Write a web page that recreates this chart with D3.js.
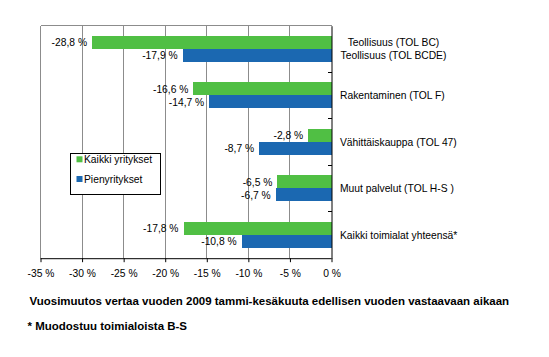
<!DOCTYPE html>
<html>
<head>
<meta charset="utf-8">
<script src="https://cdn.jsdelivr.net/npm/d3@7"></script>
<style>
  html, body { margin: 0; padding: 0; background: #fff; }
  svg { display: block; }
  text { font-family: "Liberation Sans", Arial, sans-serif; }
</style>
</head>
<body>
<svg id="chart" width="549" height="357"></svg>
<script>
// ---- data ----
const categories = [
  "Teollisuus (TOL BC)\nTeollisuus (TOL BCDE)",
  "Rakentaminen (TOL F)",
  "Vähittäiskauppa (TOL 47)",
  "Muut palvelut (TOL H-S )",
  "Kaikki toimialat yhteensä*"
];
const seriesNames = ["Kaikki yritykset", "Pienyritykset"];
const kaikkiYritykset = [-28.8, -16.6, -2.8, -6.5, -17.8];
const pienyritykset   = [-17.9, -14.7, -8.7, -6.7, -10.8];
const xTicks = [-35, -30, -25, -20, -15, -10, -5, 0];
const titleText = "Vuosimuutos vertaa vuoden 2009 tammi-kesäkuuta edellisen vuoden vastaavaan aikaan";
const footText = "* Muodostuu toimialoista B-S";
const colors = ["#50BF44", "#1B68B1"];

// ---- layout ----
const svg = d3.select("#chart");
const pLeft = 40.5, pRight = 331.5, pTop = 25.7, pBottom = 258.2;
const x = d3.scaleLinear().domain([-35, 0]).range([pLeft, pRight]);
const y = d3.scaleBand().domain(categories).range([pTop, pBottom]).padding(0);
const bw = y.bandwidth();
const barH = bw * 0.28;
const fmt = v => d3.format(".1f")(v).replace(".", ",").replace("−", "-") + " %";

// gridlines
svg.append("g").selectAll("line").data(xTicks.filter(t => t !== 0)).join("line")
  .attr("x1", d => x(d)).attr("x2", d => x(d))
  .attr("y1", pTop).attr("y2", pBottom)
  .attr("stroke", "#8c8c8c").attr("stroke-width", 1)
  .attr("shape-rendering", "crispEdges");
// top border
svg.append("line").attr("x1", pLeft).attr("x2", pRight).attr("y1", pTop).attr("y2", pTop)
  .attr("stroke", "#8c8c8c").attr("shape-rendering", "crispEdges");

// bars
const series = [kaikkiYritykset, pienyritykset];
series.forEach((vals, si) => {
  svg.append("g").selectAll("rect").data(vals).join("rect")
    .attr("x", d => x(d))
    .attr("width", d => x(0) - x(d))
    .attr("y", (d, i) => y(categories[i]) + bw / 2 - barH + si * barH)
    .attr("height", barH)
    .attr("fill", colors[si])
    .attr("shape-rendering", "crispEdges");
  svg.append("g").selectAll("text").data(vals).join("text")
    .attr("x", d => x(d) - 5)
    .attr("y", (d, i) => y(categories[i]) + bw / 2 - barH + si * barH + barH / 2)
    .attr("dy", "0.36em")
    .attr("text-anchor", "end")
    .attr("font-size", "10.3px")
    .attr("fill", "#000")
    .text(d => fmt(d));
});

// bottom axis
const xAxis = d3.axisBottom(x).tickValues(xTicks).tickSize(4).tickPadding(7.5)
  .tickFormat(d => d + " %");
const gx = svg.append("g").attr("transform", `translate(0,${pBottom})`).call(xAxis);
gx.select(".domain").attr("d", `M${pLeft},0.5H${pRight}`).attr("stroke", "#000");
gx.selectAll(".tick line").attr("stroke", "#000");
gx.selectAll(".tick text").attr("font-size", "10.3px")
  .attr("font-family", "'Liberation Sans', Arial, sans-serif").attr("fill", "#000")
  .attr("dy", "0.71em");

// left border (gray)
svg.append("line").attr("x1", pLeft).attr("x2", pLeft).attr("y1", pTop).attr("y2", pBottom)
  .attr("stroke", "#8c8c8c").attr("shape-rendering", "crispEdges");

// right (category) axis at 0
const yAxis = d3.axisRight(y).tickSize(0).tickFormat("");
const gy = svg.append("g").attr("transform", `translate(${x(0)},0)`).call(yAxis);
gy.select(".domain").attr("stroke", "#000");
// inward tick marks at category boundaries
const bounds = categories.map(c => y(c) + bw).slice(0, -1);
svg.append("g").selectAll("line").data(bounds).join("line")
  .attr("x1", x(0) - 4).attr("x2", x(0)).attr("y1", d => d).attr("y2", d => d)
  .attr("stroke", "#000").attr("shape-rendering", "crispEdges");

// category labels
categories.forEach((c, i) => {
  const lines = c.split("\n");
  const cy = y(c) + bw / 2;
  if (lines.length === 1) {
    svg.append("text").attr("x", x(0) + 8.5).attr("y", cy).attr("dy", "0.36em")
      .attr("font-size", "10.3px").attr("fill", "#000").text(lines[0]);
  } else {
    lines.forEach((l, li) => {
      svg.append("text").attr("x", x(0) + 62).attr("y", cy - barH / 2 + li * barH)
        .attr("dy", "0.36em").attr("text-anchor", "middle")
        .attr("font-size", "10.3px").attr("fill", "#000").text(l);
    });
  }
});

// legend
const lg = svg.append("g");
lg.append("rect").attr("x", 70.5).attr("y", 153.5).attr("width", 90).attr("height", 41)
  .attr("fill", "#fff").attr("stroke", "#000").attr("stroke-width", 1);
seriesNames.forEach((n, i) => {
  const cy = 159.3 + i * 19.7;
  lg.append("rect").attr("x", 76.5).attr("y", cy - 3).attr("width", 6).attr("height", 6)
    .attr("fill", colors[i]);
  lg.append("text").attr("x", 84).attr("y", cy).attr("dy", "0.36em")
    .attr("font-size", "10.3px").attr("fill", "#000").text(n);
});

// title and footnote
const t = svg.append("text").attr("x", 29.5).attr("y", 305)
  .attr("font-size", "11px").attr("font-weight", "bold").attr("fill", "#000")
  .text(titleText);
const w = t.node().getComputedTextLength();
const fsz = 11 * 480 / w;
t.attr("font-size", fsz.toFixed(2) + "px");
svg.append("text").attr("x", 27.5).attr("y", 329.5)
  .attr("font-size", fsz.toFixed(2) + "px").attr("font-weight", "bold").attr("fill", "#000")
  .text(footText);
</script>
</body>
</html>
